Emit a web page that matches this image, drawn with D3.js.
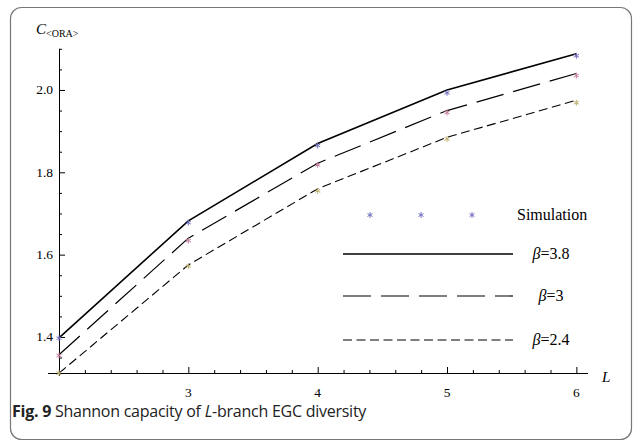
<!DOCTYPE html>
<html>
<head>
<meta charset="utf-8">
<script src="https://cdn.jsdelivr.net/npm/d3@7"></script>
<style>
  html, body { margin: 0; padding: 0; background: #fff; }
  svg { display: block; }
</style>
</head>
<body>
<svg id="chart" width="635" height="442"></svg>
<script>
// Number of branches L
const branches = [2, 3, 4, 5, 6];

// Analytical capacity curves for each beta
const seriesNames = ["β=3.8", "β=3", "β=2.4"];
const capBeta38 = [1.398, 1.682, 1.870, 2.000, 2.088];
const capBeta30 = [1.357, 1.640, 1.822, 1.950, 2.040];
const capBeta24 = [1.312, 1.575, 1.760, 1.885, 1.975];

// Simulated capacity points for each beta
const simBeta38 = [1.397, 1.678, 1.865, 1.993, 2.083];
const simBeta30 = [1.355, 1.634, 1.818, 1.945, 2.035];
const simBeta24 = [1.312, 1.572, 1.755, 1.881, 1.969];

// Axis ticks
const xTickLabels = [3, 4, 5, 6];
const yTickLabels = [1.4, 1.6, 1.8, 2.0];

const svg = d3.select("#chart");

// Panel frame
svg.append("rect")
  .attr("x", 10.5).attr("y", 7.5)
  .attr("width", 621).attr("height", 432)
  .attr("rx", 11).attr("ry", 11)
  .attr("fill", "#fff")
  .attr("stroke", "#777").attr("stroke-width", 1.2);

const x = d3.scaleLinear().domain([2, 6.09]).range([59, 588]);
const y = d3.scaleLinear().domain([1.3125, 2.1]).range([373, 48.8]);

const serif = "'Liberation Serif', 'DejaVu Serif', serif";

// Axes: ticks point inward
const xMinor = d3.range(11, 31).map(i => +(i * 0.2).toFixed(1));
const yMinor = d3.range(27, 43).map(i => +(i * 0.05).toFixed(2));

const xAxis = d3.axisBottom(x)
  .tickValues(xMinor)
  .tickSizeInner(-3).tickSizeOuter(0)
  .tickFormat("");
const gx = svg.append("g").attr("transform", `translate(0,${y.range()[0]})`).call(xAxis);
gx.select(".domain").attr("d", `M48,0.5H${x.range()[1]}`);
gx.selectAll(".tick line")
  .attr("y2", d => xTickLabels.includes(d) ? -6 : -3)
  .attr("stroke", "#000");
gx.selectAll(".tick text").remove();

svg.append("g").selectAll("text")
  .data(xTickLabels).join("text")
  .attr("x", d => x(d)).attr("y", 397)
  .attr("text-anchor", "middle")
  .attr("font-family", serif).attr("font-size", 13.5)
  .text(d => d);

const yAxis = d3.axisLeft(y)
  .tickValues(yMinor)
  .tickSizeInner(-3).tickSizeOuter(0)
  .tickFormat("");
const gy = svg.append("g").attr("transform", `translate(${x.range()[0]},0)`).call(yAxis);
gy.select(".domain").attr("d", `M0.5,${y(2.1)}V${y.range()[0] + 3}`);
gy.selectAll(".tick line")
  .attr("x2", d => yTickLabels.some(v => Math.abs(v - d) < 1e-6) ? 6 : 3)
  .attr("stroke", "#000");
gy.selectAll(".tick text").remove();

svg.append("g").selectAll("text")
  .data(yTickLabels).join("text")
  .attr("x", 53).attr("y", d => y(d) + 4.5)
  .attr("text-anchor", "end")
  .attr("font-family", serif).attr("font-size", 13.5)
  .text(d => d.toFixed(1));

// Axis titles
const yTitle = svg.append("text")
  .attr("x", 36).attr("y", 34)
  .attr("font-family", serif);
yTitle.append("tspan").attr("font-style", "italic").attr("font-size", 15).text("C");
yTitle.append("tspan").attr("font-size", 10).attr("dy", 3).text("<ORA>");

svg.append("text")
  .attr("x", 602).attr("y", 382)
  .attr("font-family", serif).attr("font-style", "italic").attr("font-size", 15)
  .text("L");

// Curves
const styles = [
  { cap: capBeta38, sim: simBeta38, dash: null, width: 1.6, color: "#7272c2" },
  { cap: capBeta30, sim: simBeta30, dash: "28,10", width: 1.2, color: "#c77fa2" },
  { cap: capBeta24, sim: simBeta24, dash: "9,4.5", width: 1.1, color: "#bdb174" }
];

const line = d3.line()
  .x((d, i) => x(branches[i]))
  .y(d => y(d));

styles.forEach(s => {
  svg.append("path")
    .datum(s.cap)
    .attr("d", line)
    .attr("fill", "none")
    .attr("stroke", "#000")
    .attr("stroke-width", s.width)
    .attr("stroke-dasharray", s.dash);
});

// Simulation markers
const star = d3.symbol(d3.symbolAsterisk, 24);
styles.forEach(s => {
  svg.append("g").selectAll("path")
    .data(s.sim).join("path")
    .attr("transform", (d, i) => `translate(${x(branches[i])},${y(d)})`)
    .attr("d", star)
    .attr("fill", "none")
    .attr("stroke", s.color)
    .attr("stroke-width", 1);
});

// Legend
const legend = svg.append("g");
[370, 421, 472].forEach(px => {
  legend.append("path")
    .attr("transform", `translate(${px},215)`)
    .attr("d", star)
    .attr("fill", "none")
    .attr("stroke", styles[0].color)
    .attr("stroke-width", 1);
});
legend.append("text")
  .attr("x", 517).attr("y", 220)
  .attr("font-family", serif).attr("font-size", 16)
  .text("Simulation");

const legendRows = [254, 296, 340];
styles.forEach((s, i) => {
  legend.append("line")
    .attr("x1", 343).attr("x2", 513)
    .attr("y1", legendRows[i]).attr("y2", legendRows[i])
    .attr("stroke", "#000")
    .attr("stroke-width", s.width)
    .attr("stroke-dasharray", s.dash);
  const [greek, rest] = seriesNames[i].split("=");
  const t = legend.append("text")
    .attr("x", 551).attr("y", legendRows[i] + 5)
    .attr("text-anchor", "middle")
    .attr("font-family", serif).attr("font-size", 16);
  t.append("tspan").attr("font-style", "italic").text(greek);
  t.append("tspan").text("=" + rest);
});

// Caption
const caption = svg.append("text")
  .attr("x", 12).attr("y", 417)
  .attr("font-family", "'Open Sans', 'Noto Sans', sans-serif")
  .attr("font-size", 16)
  .attr("letter-spacing", -0.25)
  .attr("fill", "#222");
caption.append("tspan").attr("font-weight", "bold").text("Fig. 9");
caption.append("tspan").text(" Shannon capacity of ");
caption.append("tspan").attr("font-style", "italic").text("L");
caption.append("tspan").text("-branch EGC diversity");
</script>
</body>
</html>
